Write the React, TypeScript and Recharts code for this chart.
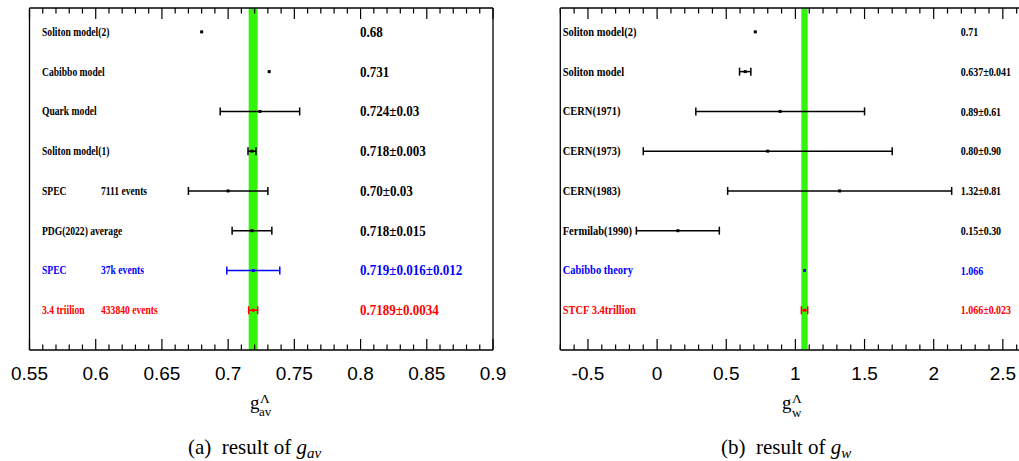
import { ScatterChart, Scatter, XAxis, YAxis, ErrorBar, ReferenceArea } from "recharts"

// g_av panel, rows listed top to bottom
const AV_LABELS = ["Soliton model(2)", "Cabibbo model", "Quark model", "Soliton model(1)", "SPEC", "PDG(2022) average", "SPEC", "3.4 triilion"]
const AV_NOTES = ["", "", "", "", "7111 events", "", "37k events", "433840 events"]
const AV_VALUES = [0.68, 0.731, 0.724, 0.718, 0.7, 0.718, 0.719, 0.7189]
const AV_ERRORS = [0, 0, 0.03, 0.003, 0.03, 0.015, 0.02, 0.0034]
const AV_TEXTS = ["0.68", "0.731", "0.724±0.03", "0.718±0.003", "0.70±0.03", "0.718±0.015", "0.719±0.016±0.012", "0.7189±0.0034"]
const AV_COLORS = ["#000", "#000", "#000", "#000", "#000", "#000", "#0000ff", "#ff0000"]
const AV_BAND = [0.7189, 0.0034]

// g_w panel
const W_LABELS = ["Soliton model(2)", "Soliton model", "CERN(1971)", "CERN(1973)", "CERN(1983)", "Fermilab(1990)", "Cabibbo theory", "STCF 3.4trillion"]
const W_VALUES = [0.71, 0.637, 0.89, 0.8, 1.32, 0.15, 1.066, 1.066]
const W_ERRORS = [0, 0.041, 0.61, 0.9, 0.81, 0.3, 0, 0.023]
const W_TEXTS = ["0.71", "0.637±0.041", "0.89±0.61", "0.80±0.90", "1.32±0.81", "0.15±0.30", "1.066", "1.066±0.023"]
const W_COLORS = ["#000", "#000", "#000", "#000", "#000", "#000", "#0000ff", "#ff0000"]
const W_BAND = [1.066, 0.023]

const BAND_COLOR = "#33f50a"
const SERIF = "'Liberation Serif', 'Times New Roman', serif"
const SANS = "'Liberation Sans', Arial, sans-serif"

const ROW_IDS = [8, 7, 6, 5, 4, 3, 2, 1]

function makeTicks(lo: number, hi: number, step: number) {
  const n = Math.round((hi - lo) / step)
  return Array.from({ length: n + 1 }, (_, i) => +(lo + i * step).toFixed(4))
}

const isMajor = (v: number, step: number) => Math.abs(v / step - Math.round(v / step)) < 1e-6

const fmt = (v: number) => String(+v.toFixed(3))

function ScaledText({ x, y, size, sx, color, children }: any) {
  return (
    <text
      transform={`translate(${x},${y}) scale(${sx},1)`}
      fontFamily={SERIF}
      fontWeight="bold"
      fontSize={size}
      fill={color}
    >
      {children}
    </text>
  )
}

interface PanelProps {
  width: number
  margin: { top: number; right: number; bottom: number; left: number }
  domain: [number, number]
  minor: number
  major: number
  labels: string[]
  notes?: string[]
  values: number[]
  errors: number[]
  texts: string[]
  colors: string[]
  band: number[]
  nameFont: { size: number; sx: number; dx: number }
  noteDx?: number
  valueFont: { size: number; sx: number; dx: number }
}

function Panel(p: PanelProps) {
  const ticks = makeTicks(p.domain[0], p.domain[1], p.minor)

  // group rows by colour and whether they carry an error bar
  const groups: Record<string, { color: string; withErr: boolean; data: { x: number; y: number; err: number }[] }> = {}
  p.values.forEach((v, i) => {
    const withErr = p.errors[i] > 0
    const key = `${p.colors[i]}-${withErr}`
    if (!groups[key]) groups[key] = { color: p.colors[i], withErr, data: [] }
    groups[key].data.push({ x: v, y: ROW_IDS[i], err: p.errors[i] })
  })

  const bottomTick = (t: any) => {
    const big = isMajor(t.payload.value, p.major)
    return (
      <g>
        <line x1={t.x} x2={t.x} y1={t.y} y2={t.y - (big ? 11 : 5.5)} stroke="#000" strokeWidth={1.2} />
        {big && (
          <text x={t.x} y={t.y + 30} textAnchor="middle" fontFamily={SANS} fontSize={19} fill="#000">
            {fmt(t.payload.value)}
          </text>
        )}
      </g>
    )
  }

  const topTick = (t: any) => {
    const big = isMajor(t.payload.value, p.major)
    return <line x1={t.x} x2={t.x} y1={t.y} y2={t.y + (big ? 11 : 5.5)} stroke="#000" strokeWidth={1.2} />
  }

  const rowTick = (t: any) => {
    const i = ROW_IDS.indexOf(t.payload.value)
    if (i < 0) return <g />
    const c = p.colors[i]
    return (
      <g>
        <ScaledText x={t.x + p.nameFont.dx} y={t.y + 4} size={p.nameFont.size} sx={p.nameFont.sx} color={c}>
          {p.labels[i]}
        </ScaledText>
        {p.notes && p.notes[i] && (
          <ScaledText x={t.x + (p.noteDx || 0)} y={t.y + 4} size={p.nameFont.size} sx={p.nameFont.sx} color={c}>
            {p.notes[i]}
          </ScaledText>
        )}
        <ScaledText x={t.x + p.valueFont.dx} y={t.y + p.valueFont.size * 0.33} size={p.valueFont.size} sx={p.valueFont.sx} color={c}>
          {p.texts[i]}
        </ScaledText>
      </g>
    )
  }

  // axes get a 1px band so that Recharts renders them
  const m = { top: p.margin.top - 1, bottom: p.margin.bottom - 1, left: p.margin.left - 1, right: p.margin.right - 1 }

  return (
    <ScatterChart width={p.width} height={461} margin={m}>
      <XAxis
        type="number"
        dataKey="x"
        domain={p.domain}
        allowDataOverflow
        ticks={ticks}
        interval={0}
        height={1}
        tickSize={0}
        tickMargin={0}
        tickLine={false}
        tick={bottomTick}
        axisLine={{ stroke: "#000", strokeWidth: 1.3 }}
      />
      <XAxis
        xAxisId="top"
        orientation="top"
        type="number"
        dataKey="x"
        domain={p.domain}
        allowDataOverflow
        ticks={ticks}
        interval={0}
        height={1}
        tickSize={0}
        tickMargin={0}
        tickLine={false}
        tick={topTick}
        axisLine={{ stroke: "#000", strokeWidth: 1.3 }}
      />
      <YAxis
        type="number"
        dataKey="y"
        domain={[0, 8.6]}
        allowDataOverflow
        ticks={ROW_IDS}
        interval={0}
        width={1}
        tickSize={0}
        tickMargin={0}
        tickLine={false}
        tick={rowTick}
        axisLine={{ stroke: "#000", strokeWidth: 1.3 }}
      />
      <YAxis
        yAxisId="r"
        orientation="right"
        type="number"
        domain={[0, 8.6]}
        allowDataOverflow
        width={1}
        tick={false}
        tickLine={false}
        axisLine={{ stroke: "#000", strokeWidth: 1.3 }}
      />
      <ReferenceArea
        x1={p.band[0] - p.band[1]}
        x2={p.band[0] + p.band[1]}
        fill={BAND_COLOR}
        fillOpacity={1}
        stroke="none"
        ifOverflow="visible"
      />
      {Object.entries(groups).map(([key, g]) => (
        <Scatter
          key={key}
          data={g.data}
          isAnimationActive={false}
          shape={(s: any) => <rect x={s.cx - 1.5} y={s.cy - 1.5} width={3} height={3} fill={g.color} />}
        >
          {g.withErr && (
            <ErrorBar dataKey="err" direction="x" width={4} stroke={g.color} strokeWidth={1.5} isAnimationActive={false} />
          )}
        </Scatter>
      ))}
    </ScatterChart>
  )
}

export default function App() {
  return (
    <div style={{ position: "absolute", left: 0, top: 0, width: 1019, height: 461, overflow: "hidden", background: "#fff" }}>
      <div style={{ position: "absolute", left: 0, top: 0 }}>
        <Panel
          width={519}
          margin={{ top: 8, right: 26, bottom: 111, left: 29.5 }}
          domain={[0.55, 0.9]}
          minor={0.01}
          major={0.05}
          labels={AV_LABELS}
          notes={AV_NOTES}
          values={AV_VALUES}
          errors={AV_ERRORS}
          texts={AV_TEXTS}
          colors={AV_COLORS}
          band={AV_BAND}
          nameFont={{ size: 12, sx: 0.8, dx: 12.5 }}
          noteDx={71.5}
          valueFont={{ size: 15, sx: 0.87, dx: 330.5 }}
        />
      </div>
      <div style={{ position: "absolute", left: 519, top: 0 }}>
        <Panel
          width={560}
          margin={{ top: 8, right: 48.5, bottom: 111, left: 41.3 }}
          domain={[-0.7, 2.7]}
          minor={0.1}
          major={0.5}
          labels={W_LABELS}
          values={W_VALUES}
          errors={W_ERRORS}
          texts={W_TEXTS}
          colors={W_COLORS}
          band={W_BAND}
          nameFont={{ size: 12.5, sx: 0.84, dx: 2.4 }}
          valueFont={{ size: 12.5, sx: 0.8, dx: 400.4 }}
        />
      </div>
      <svg width={1019} height={461} style={{ position: "absolute", left: 0, top: 0, pointerEvents: "none" }}>
        <g fontFamily={SERIF} fill="#000">
          <text x={250} y={409} fontSize={19}>g</text>
          <text x={260} y={403} fontSize={13.5}>Λ</text>
          <text x={259} y={416} fontSize={13}>av</text>
          <text x={782} y={409} fontSize={19}>g</text>
          <text x={792} y={403} fontSize={13.5}>Λ</text>
          <text x={792} y={417} fontSize={13}>w</text>
          <text x={188} y={454} fontSize={21}>
            {"(a)\u00a0 result of "}
            <tspan fontStyle="italic">g</tspan>
            <tspan fontStyle="italic" fontSize={15} dy={4}>av</tspan>
          </text>
          <text x={721} y={454} fontSize={21}>
            {"(b)\u00a0 result of "}
            <tspan fontStyle="italic">g</tspan>
            <tspan fontStyle="italic" fontSize={15} dy={4}>w</tspan>
          </text>
        </g>
      </svg>
    </div>
  )
}
